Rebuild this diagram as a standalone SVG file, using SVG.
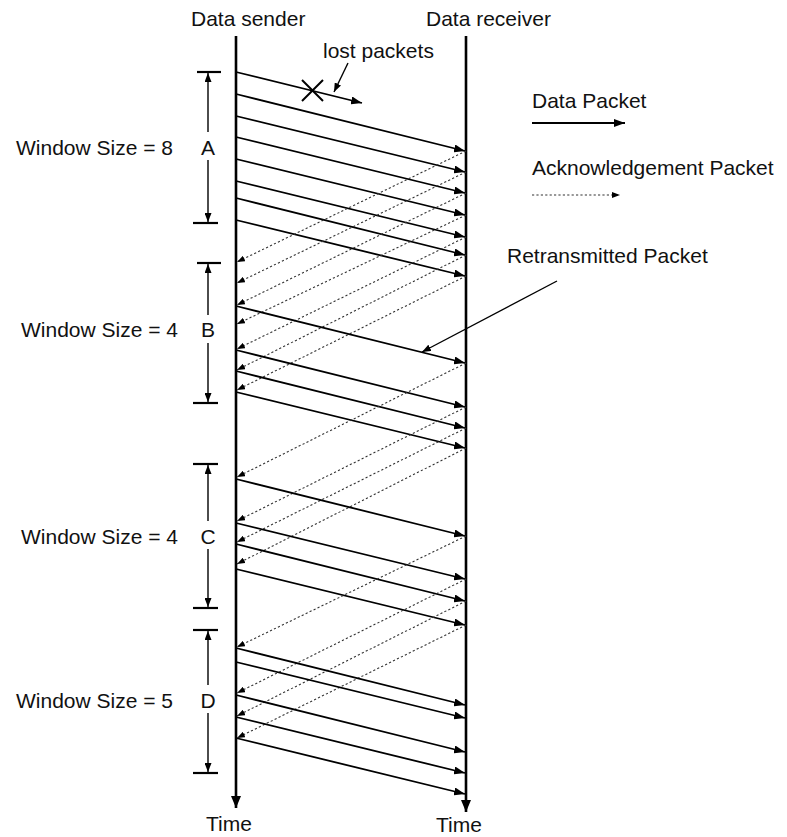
<svg xmlns="http://www.w3.org/2000/svg" width="787" height="837" viewBox="0 0 787 837">
<defs>
<marker id="da" markerUnits="userSpaceOnUse" markerWidth="11" markerHeight="8" refX="11" refY="4" orient="auto"><path d="M0,0 L11,4 L0,8 z" fill="#000"/></marker>
<marker id="aa" markerUnits="userSpaceOnUse" markerWidth="8" markerHeight="6" refX="8" refY="3" orient="auto"><path d="M0,0 L8,3 L0,6 z" fill="#000"/></marker>
<marker id="ba" markerUnits="userSpaceOnUse" markerWidth="9" markerHeight="7" refX="9" refY="3.5" orient="auto"><path d="M0,0 L9,3.5 L0,7 z" fill="#000"/></marker>
<marker id="ta" markerUnits="userSpaceOnUse" markerWidth="12" markerHeight="10" refX="12" refY="5" orient="auto"><path d="M0,0 L12,5 L0,10 z" fill="#000"/></marker>
</defs>
<style>
text{font-family:"Liberation Sans",Arial,Helvetica,sans-serif;font-size:21px;fill:#111}
.r{text-anchor:end}
.m{text-anchor:middle}
.d{stroke:#000;stroke-width:1.8;fill:none;marker-end:url(#da)}
.a{stroke:#333;stroke-width:1.1;stroke-dasharray:2.2 2.2;fill:none;marker-end:url(#aa)}
.bar{stroke:#000;stroke-width:2.2}
.v{stroke:#000;stroke-width:1.4;fill:none}
.tl{stroke:#000;stroke-width:2.6;fill:none;marker-end:url(#ta)}
</style>
<g id="sender">
<line class="tl" x1="236" y1="36" x2="236" y2="808"/>
<text x="191" y="26">Data sender</text>
<text x="206" y="831">Time</text>
</g>
<g id="receiver">
<line class="tl" x1="466" y1="36" x2="466" y2="812"/>
<text x="426" y="26">Data receiver</text>
<text x="436" y="832">Time</text>
</g>
<g id="windowA">
<line class="bar" x1="197" y1="72" x2="221" y2="72"/>
<line class="bar" x1="193" y1="223" x2="218" y2="223"/>
<line class="v" x1="208" y1="132" x2="208" y2="73" marker-end="url(#ba)"/>
<line class="v" x1="208" y1="160" x2="208" y2="222" marker-end="url(#ba)"/>
<text class="m" x="208" y="155">A</text>
<text class="r" x="173" y="155">Window Size = 8</text>
</g>
<g id="windowB">
<line class="bar" x1="197" y1="263" x2="221" y2="263"/>
<line class="bar" x1="193" y1="403" x2="218" y2="403"/>
<line class="v" x1="208" y1="315" x2="208" y2="264" marker-end="url(#ba)"/>
<line class="v" x1="208" y1="343" x2="208" y2="402" marker-end="url(#ba)"/>
<text class="m" x="208" y="337">B</text>
<text class="r" x="178" y="337">Window Size = 4</text>
</g>
<g id="windowC">
<line class="bar" x1="193" y1="464" x2="218" y2="464"/>
<line class="bar" x1="193" y1="608" x2="218" y2="608"/>
<line class="v" x1="208" y1="521" x2="208" y2="465" marker-end="url(#ba)"/>
<line class="v" x1="208" y1="549" x2="208" y2="607" marker-end="url(#ba)"/>
<text class="m" x="208" y="544">C</text>
<text class="r" x="178" y="544">Window Size = 4</text>
</g>
<g id="windowD">
<line class="bar" x1="193" y1="630" x2="218" y2="630"/>
<line class="bar" x1="193" y1="773" x2="218" y2="773"/>
<line class="v" x1="208" y1="685" x2="208" y2="631" marker-end="url(#ba)"/>
<line class="v" x1="208" y1="713" x2="208" y2="772" marker-end="url(#ba)"/>
<text class="m" x="208" y="708">D</text>
<text class="r" x="173" y="708">Window Size = 5</text>
</g>
<g id="legend">
<text x="532" y="108">Data Packet</text>
<line class="d" x1="532" y1="123" x2="625" y2="123"/>
<text x="532" y="175">Acknowledgement Packet</text>
<line class="a" x1="532" y1="195" x2="620" y2="195"/>
</g>
<g id="annotations">
<text x="323" y="58">lost packets</text>
<line class="v" x1="348" y1="63" x2="334" y2="92" marker-end="url(#ba)"/>
<path d="M302,80 L323,101 M302,101 L323,80" stroke="#000" stroke-width="2"/>
<text x="507" y="263">Retransmitted Packet</text>
<line class="v" x1="557" y1="281" x2="422" y2="352" marker-end="url(#ba)"/>
</g>
<g id="connectors">
<line class="d" x1="236" y1="72" x2="362" y2="103"/>
<line class="d" x1="236" y1="94" x2="465" y2="151"/>
<line class="d" x1="236" y1="116" x2="465" y2="172"/>
<line class="d" x1="236" y1="137" x2="465" y2="193"/>
<line class="d" x1="236" y1="159" x2="465" y2="215"/>
<line class="d" x1="236" y1="181" x2="465" y2="237"/>
<line class="d" x1="236" y1="198" x2="465" y2="255"/>
<line class="d" x1="236" y1="220" x2="465" y2="276"/>
<line class="a" x1="466" y1="151" x2="237" y2="262"/>
<line class="a" x1="466" y1="172" x2="237" y2="283"/>
<line class="a" x1="466" y1="193" x2="237" y2="305"/>
<line class="a" x1="466" y1="215" x2="237" y2="324"/>
<line class="a" x1="466" y1="237" x2="237" y2="349"/>
<line class="a" x1="466" y1="255" x2="237" y2="370"/>
<line class="a" x1="466" y1="276" x2="237" y2="390"/>
<line class="d" x1="236" y1="306" x2="465" y2="363"/>
<line class="d" x1="236" y1="350" x2="465" y2="407"/>
<line class="d" x1="236" y1="371" x2="465" y2="428"/>
<line class="d" x1="236" y1="392" x2="465" y2="448"/>
<line class="a" x1="466" y1="363" x2="237" y2="477"/>
<line class="a" x1="466" y1="407" x2="237" y2="521"/>
<line class="a" x1="466" y1="428" x2="237" y2="542"/>
<line class="a" x1="466" y1="448" x2="237" y2="564"/>
<line class="d" x1="236" y1="479" x2="465" y2="536"/>
<line class="d" x1="236" y1="523" x2="465" y2="579"/>
<line class="d" x1="236" y1="544" x2="465" y2="601"/>
<line class="d" x1="236" y1="569" x2="465" y2="625"/>
<line class="a" x1="466" y1="536" x2="237" y2="647"/>
<line class="a" x1="466" y1="579" x2="237" y2="693"/>
<line class="a" x1="466" y1="601" x2="237" y2="716"/>
<line class="a" x1="466" y1="625" x2="237" y2="738"/>
<line class="d" x1="236" y1="648" x2="465" y2="705"/>
<line class="d" x1="236" y1="662" x2="465" y2="718"/>
<line class="d" x1="236" y1="695" x2="465" y2="752"/>
<line class="d" x1="236" y1="717" x2="465" y2="773"/>
<line class="d" x1="236" y1="738" x2="465" y2="794"/>
</g>
</svg>
